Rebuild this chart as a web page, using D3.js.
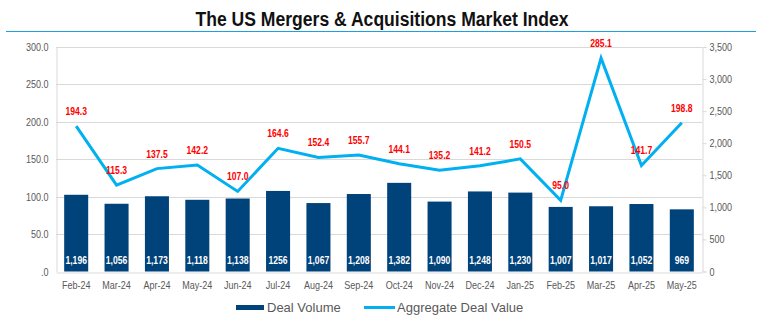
<!DOCTYPE html>
<html>
<head>
<meta charset="utf-8">
<script src="https://cdn.jsdelivr.net/npm/d3@7"></script>
<style>
  body { margin: 0; background: #fff; }
  svg { display: block; font-family: "Liberation Sans", Arial, sans-serif; }
</style>
</head>
<body>
<div id="chart"></div>
<script>
// US M&A market index: deal volume (bars, right axis) and aggregate deal value (line, left axis)
const months = ["Feb-24","Mar-24","Apr-24","May-24","Jun-24","Jul-24","Aug-24","Sep-24",
                "Oct-24","Nov-24","Dec-24","Jan-25","Feb-25","Mar-25","Apr-25","May-25"];
const dealVolume = [1196,1056,1173,1118,1138,1256,1067,1208,1382,1090,1248,1230,1007,1017,1052,969];
const volumeLabels = ["1,196","1,056","1,173","1,118","1,138","1256","1,067","1,208",
                      "1,382","1,090","1,248","1,230","1,007","1,017","1,052","969"];
const dealValue = [194.3,115.3,137.5,142.2,107.0,164.6,152.4,155.7,144.1,135.2,141.2,150.5,95.0,285.1,141.7,198.8];
const leftTicks = [0,50,100,150,200,250,300];
const rightTicks = [0,500,1000,1500,2000,2500,3000,3500];

const width = 764, height = 331;
const plot = {left: 56, right: 702, top: 47, bottom: 271.5};

// no narrow font installed: squeeze text horizontally
function narrow(sel, factor) {
  sel.each(function() {
    const w = this.getComputedTextLength();
    d3.select(this)
      .attr("textLength", w * factor)
      .attr("lengthAdjust", "spacingAndGlyphs");
  });
}

const svg = d3.select("#chart")
  .append("svg")
    .attr("width", width)
    .attr("height", height);

// Title
svg.append("text")
    .attr("x", 382)
    .attr("y", 26)
    .attr("text-anchor", "middle")
    .attr("font-weight", "bold")
    .attr("font-size", "20px")
    .attr("fill", "#111")
    .attr("textLength", 373)
    .attr("lengthAdjust", "spacingAndGlyphs")
    .text("The US Mergers & Acquisitions Market Index");

svg.append("line")
    .attr("x1", 6).attr("x2", 756)
    .attr("y1", 31.5).attr("y2", 31.5)
    .attr("stroke", "#1ba1e2")
    .attr("stroke-width", 1);

// Scales
const x = d3.scaleBand()
    .domain(months)
    .range([plot.left, plot.right])
    .paddingInner(0.405)
    .paddingOuter(0.2025);
const yLeft = d3.scaleLinear().domain([0, 300]).range([plot.bottom, plot.top]);
const yRight = d3.scaleLinear().domain([0, 3500]).range([plot.bottom, plot.top]);

// Gridlines (left axis)
svg.append("g")
  .selectAll("line")
  .data(leftTicks.slice(1))
  .join("line")
    .attr("x1", plot.left).attr("x2", plot.right)
    .attr("y1", d => Math.round(yLeft(d)) + 0.5)
    .attr("y2", d => Math.round(yLeft(d)) + 0.5)
    .attr("stroke", "#d9d9d9");

// Left axis
const leftAxis = svg.append("g")
    .attr("transform", `translate(${plot.left + 0.5},0)`)
    .call(d3.axisLeft(yLeft).tickValues(leftTicks).tickSize(0).tickPadding(8)
      .tickFormat(d => d === 0 ? ".0" : d3.format(".1f")(d)));
leftAxis.select(".domain").attr("stroke", "#d9d9d9");

// Right axis
const rightAxis = svg.append("g")
    .attr("transform", `translate(${plot.right + 0.5},0)`)
    .call(d3.axisRight(yRight).tickValues(rightTicks).tickSize(4).tickPadding(3)
      .tickFormat(d3.format(",")));
rightAxis.select(".domain").attr("stroke", "#d9d9d9");
rightAxis.selectAll(".tick line").attr("stroke", "#d9d9d9");

// Bottom axis
const bottomAxis = svg.append("g")
    .attr("transform", `translate(0,${Math.round(plot.bottom) + 0.5})`)
    .call(d3.axisBottom(x).tickSize(0).tickPadding(9));
bottomAxis.select(".domain").attr("stroke", "#d9d9d9");

svg.selectAll(".tick text")
    .attr("fill", "#595959")
    .attr("font-size", "11px")
    .attr("font-family", "'Liberation Sans', Arial, sans-serif")
    .call(narrow, 0.82);

// Bars
svg.append("g")
  .selectAll("rect")
  .data(dealVolume)
  .join("rect")
    .attr("x", (d, i) => x(months[i]))
    .attr("y", d => yRight(d))
    .attr("width", x.bandwidth())
    .attr("height", d => plot.bottom - yRight(d))
    .attr("fill", "#00427a");

// Bar labels
svg.append("g")
  .selectAll("text")
  .data(volumeLabels)
  .join("text")
    .attr("x", (d, i) => x(months[i]) + x.bandwidth() / 2)
    .attr("y", 264)
    .attr("text-anchor", "middle")
    .attr("font-size", "10px")
    .attr("font-weight", "bold")
    .attr("fill", "#fff")
    .text(d => d)
    .call(narrow, 0.86);

// Line
const line = d3.line()
    .x((d, i) => x(months[i]) + x.bandwidth() / 2)
    .y(d => yLeft(d));

svg.append("path")
    .datum(dealValue)
    .attr("fill", "none")
    .attr("stroke", "#00b0f0")
    .attr("stroke-width", 3)
    .attr("stroke-linejoin", "miter")
    .attr("d", line);

// Line labels
svg.append("g")
  .selectAll("text")
  .data(dealValue)
  .join("text")
    .attr("x", (d, i) => x(months[i]) + x.bandwidth() / 2)
    .attr("y", d => yLeft(d) - 11)
    .attr("text-anchor", "middle")
    .attr("font-size", "10px")
    .attr("font-weight", "bold")
    .attr("fill", "#ff0000")
    .text(d => d3.format(".1f")(d))
    .call(narrow, 0.86);

// Legend
const legend = svg.append("g").attr("transform", "translate(0,307)");
legend.append("rect")
    .attr("x", 236).attr("y", -2)
    .attr("width", 28).attr("height", 5)
    .attr("fill", "#00427a");
legend.append("text")
    .attr("x", 267).attr("y", 5)
    .attr("font-size", "13px")
    .attr("fill", "#595959")
    .text("Deal Volume");
legend.append("line")
    .attr("x1", 364).attr("x2", 395)
    .attr("y1", 0.5).attr("y2", 0.5)
    .attr("stroke", "#00b0f0")
    .attr("stroke-width", 3);
legend.append("text")
    .attr("x", 397).attr("y", 5)
    .attr("font-size", "13px")
    .attr("fill", "#595959")
    .text("Aggregate Deal Value");
</script>
</body>
</html>
